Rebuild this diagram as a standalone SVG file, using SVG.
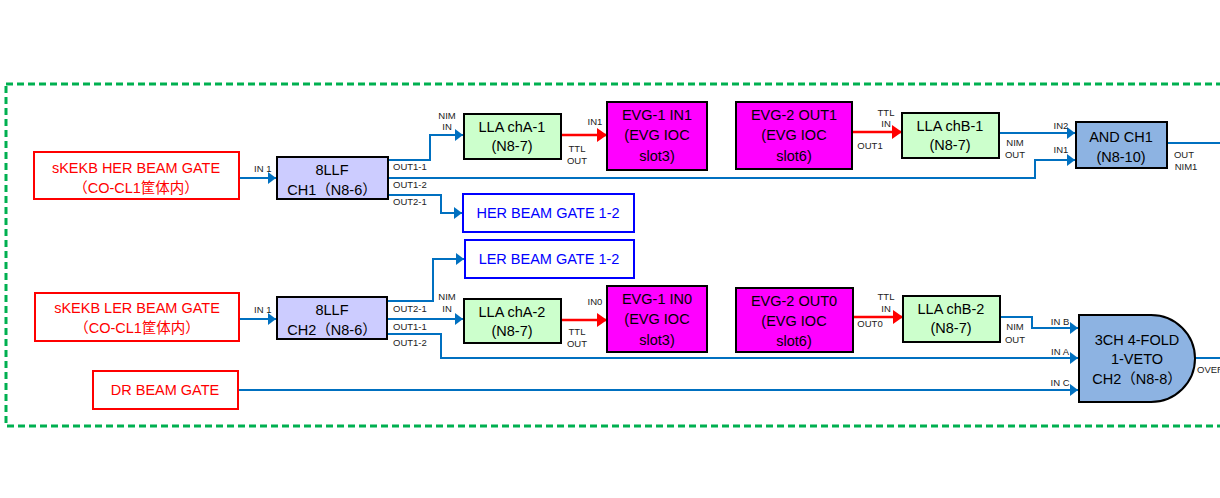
<svg xmlns="http://www.w3.org/2000/svg" width="1220" height="498" viewBox="0 0 1220 498">
<style>
text{font-family:"Liberation Sans","Noto Sans CJK JP",sans-serif}
.t{font-size:14.5px;text-anchor:middle}
.s{font-size:9.5px;fill:#222}
.sm{font-size:9.5px;fill:#222;text-anchor:middle}
.red{fill:#fff;stroke:#ff0000;stroke-width:2}
.blu{fill:#fff;stroke:#0000ff;stroke-width:2}
.llf{fill:#ccccff;stroke:#000;stroke-width:2}
.lla{fill:#ccffcc;stroke:#000;stroke-width:2}
.evg{fill:#ff00ff;stroke:#000;stroke-width:2}
.and{fill:#8db3e2;stroke:#000;stroke-width:2}
.cb{fill:none;stroke:#0070c0;stroke-width:2}
.cr{fill:none;stroke:#ff0000;stroke-width:2.5}
.rt{fill:#ff0000}
.bt{fill:#0000ff}
</style>
<defs>
<marker id="ab" viewBox="0 0 8 12" refX="8" refY="6" markerWidth="8" markerHeight="12" markerUnits="userSpaceOnUse" orient="auto"><path d="M0,0 L8,6 L0,12 z" fill="#0070c0"/></marker>
<marker id="ar" viewBox="0 0 10 14" refX="10" refY="7" markerWidth="10" markerHeight="14" markerUnits="userSpaceOnUse" orient="auto"><path d="M0,0 L10,7 L0,14 z" fill="#ff0000"/></marker>
</defs>
<rect width="1220" height="498" fill="#fff"/>
<rect x="6" y="84" width="1230" height="342" fill="none" stroke="#00b050" stroke-width="3" stroke-dasharray="7 4"/>

<g id="connectors">
<path class="cb" d="M239,178 H276" marker-end="url(#ab)"/>
<path class="cb" d="M388,160 H430 V135 H463" marker-end="url(#ab)"/>
<path class="cb" d="M388,178 H1035 V160 H1075" marker-end="url(#ab)"/>
<path class="cb" d="M388,195 H441 V213 H462" marker-end="url(#ab)"/>
<path class="cb" d="M999,133 H1075" marker-end="url(#ab)"/>
<path class="cb" d="M1167,143 H1228" marker-end="url(#ab)"/>
<path class="cb" d="M239,319 H276" marker-end="url(#ab)"/>
<path class="cb" d="M387,301 H433 V259 H464" marker-end="url(#ab)"/>
<path class="cb" d="M387,319 H463" marker-end="url(#ab)"/>
<path class="cb" d="M387,334 H441 V358 H1078" marker-end="url(#ab)"/>
<path class="cb" d="M1000,317 H1032 V328 H1078" marker-end="url(#ab)"/>
<path class="cb" d="M238,390 H1078" marker-end="url(#ab)"/>
<path class="cb" d="M1195,358 H1222"/>
<path class="cr" d="M561,135 H607" marker-end="url(#ar)"/>
<path class="cr" d="M852,132 H902" marker-end="url(#ar)"/>
<path class="cr" d="M561,320 H607" marker-end="url(#ar)"/>
<path class="cr" d="M853,317 H903" marker-end="url(#ar)"/>
<text class="s" x="254" y="172">IN 1</text>
<text class="s" x="254" y="313">IN 1</text>
<text class="s" x="393" y="170">OUT1-1</text>
<text class="s" x="393" y="188">OUT1-2</text>
<text class="s" x="393" y="205">OUT2-1</text>
<text class="s" x="393" y="312">OUT2-1</text>
<text class="s" x="393" y="330">OUT1-1</text>
<text class="s" x="393" y="346">OUT1-2</text>
<text class="sm" x="447" y="119">NIM</text>
<text class="sm" x="447" y="130">IN</text>
<text class="sm" x="447" y="300">NIM</text>
<text class="sm" x="447" y="312">IN</text>
<text class="sm" x="595" y="125">IN1</text>
<text class="sm" x="595" y="305">IN0</text>
<text class="sm" x="577" y="152">TTL</text>
<text class="sm" x="577" y="164">OUT</text>
<text class="sm" x="577" y="335">TTL</text>
<text class="sm" x="577" y="347">OUT</text>
<text class="sm" x="886" y="116">TTL</text>
<text class="sm" x="886" y="127">IN</text>
<text class="sm" x="886" y="300">TTL</text>
<text class="sm" x="886" y="312">IN</text>
<text class="sm" x="870" y="149">OUT1</text>
<text class="sm" x="870" y="327">OUT0</text>
<text class="sm" x="1015" y="146">NIM</text>
<text class="sm" x="1015" y="158">OUT</text>
<text class="sm" x="1015" y="330">NIM</text>
<text class="sm" x="1015" y="343">OUT</text>
<text class="sm" x="1061" y="129">IN2</text>
<text class="sm" x="1061" y="153">IN1</text>
<text class="sm" x="1184" y="158">OUT</text>
<text class="sm" x="1186" y="170">NIM1</text>
<text class="sm" x="1060" y="325">IN B</text>
<text class="sm" x="1060" y="355">IN A</text>
<text class="sm" x="1060" y="386">IN C</text>
<text class="s" x="1197" y="373">OVER</text>
</g>

<g id="her-gate"><rect class="red" x="34" y="152" width="205" height="47"/>
<text class="t rt" x="136" y="173">sKEKB HER BEAM GATE</text><text class="t rt" x="136" y="193">（CO-CL1筐体内）</text></g>
<g id="ler-gate"><rect class="red" x="35" y="293" width="204" height="48"/>
<text class="t rt" x="137" y="313">sKEKB LER BEAM GATE</text><text class="t rt" x="137" y="333">（CO-CL1筐体内）</text></g>
<g id="dr-gate"><rect class="red" x="93" y="371" width="145" height="38"/>
<text class="t rt" x="165" y="395">DR BEAM GATE</text></g>

<g id="llf-ch1"><rect class="llf" x="277" y="157" width="111" height="42"/>
<text class="t" x="332" y="175">8LLF</text><text class="t" x="332" y="195">CH1（N8-6）</text></g>
<g id="llf-ch2"><rect class="llf" x="277" y="297" width="110" height="42"/>
<text class="t" x="332" y="315">8LLF</text><text class="t" x="332" y="335">CH2（N8-6）</text></g>

<g id="lla-a1"><rect class="lla" x="464" y="114" width="97" height="45"/>
<text class="t" x="512" y="132">LLA chA-1</text><text class="t" x="512" y="151">(N8-7)</text></g>
<g id="lla-a2"><rect class="lla" x="464" y="299" width="97" height="44"/>
<text class="t" x="512" y="317">LLA chA-2</text><text class="t" x="512" y="336">(N8-7)</text></g>
<g id="lla-b1"><rect class="lla" x="902" y="113" width="97" height="45"/>
<text class="t" x="950" y="131">LLA chB-1</text><text class="t" x="950" y="150">(N8-7)</text></g>
<g id="lla-b2"><rect class="lla" x="903" y="296" width="97" height="46"/>
<text class="t" x="951" y="314">LLA chB-2</text><text class="t" x="951" y="333">(N8-7)</text></g>

<g id="evg1-in1"><rect class="evg" x="607" y="102" width="100" height="68"/>
<text class="t" x="657" y="120">EVG-1 IN1</text><text class="t" x="657" y="140">(EVG IOC</text><text class="t" x="657" y="161">slot3)</text></g>
<g id="evg1-in0"><rect class="evg" x="607" y="286" width="100" height="66"/>
<text class="t" x="657" y="304">EVG-1 IN0</text><text class="t" x="657" y="324">(EVG IOC</text><text class="t" x="657" y="345">slot3)</text></g>
<g id="evg2-out1"><rect class="evg" x="736" y="102" width="116" height="67"/>
<text class="t" x="794" y="120">EVG-2 OUT1</text><text class="t" x="794" y="140">(EVG IOC</text><text class="t" x="794" y="161">slot6)</text></g>
<g id="evg2-out0"><rect class="evg" x="736" y="288" width="117" height="64"/>
<text class="t" x="794" y="306">EVG-2 OUT0</text><text class="t" x="794" y="326">(EVG IOC</text><text class="t" x="794" y="346">slot6)</text></g>

<g id="and-ch1"><rect class="and" x="1076" y="122" width="91" height="46"/>
<text class="t" x="1121" y="142">AND CH1</text><text class="t" x="1121" y="162">(N8-10)</text></g>
<g id="fold-ch2"><path class="and" d="M1079,315 H1151 A44,43.5 0 0 1 1151,402 H1079 Z"/>
<text class="t" x="1137" y="345">3CH 4-FOLD</text><text class="t" x="1137" y="364">1-VETO</text><text class="t" x="1137" y="384">CH2（N8-8）</text></g>

<g id="her-12"><rect class="blu" x="463" y="194" width="171" height="38"/>
<text class="t bt" x="548" y="218">HER BEAM GATE 1-2</text></g>
<g id="ler-12"><rect class="blu" x="465" y="240" width="169" height="38"/>
<text class="t bt" x="549" y="264">LER BEAM GATE 1-2</text></g>
</svg>
